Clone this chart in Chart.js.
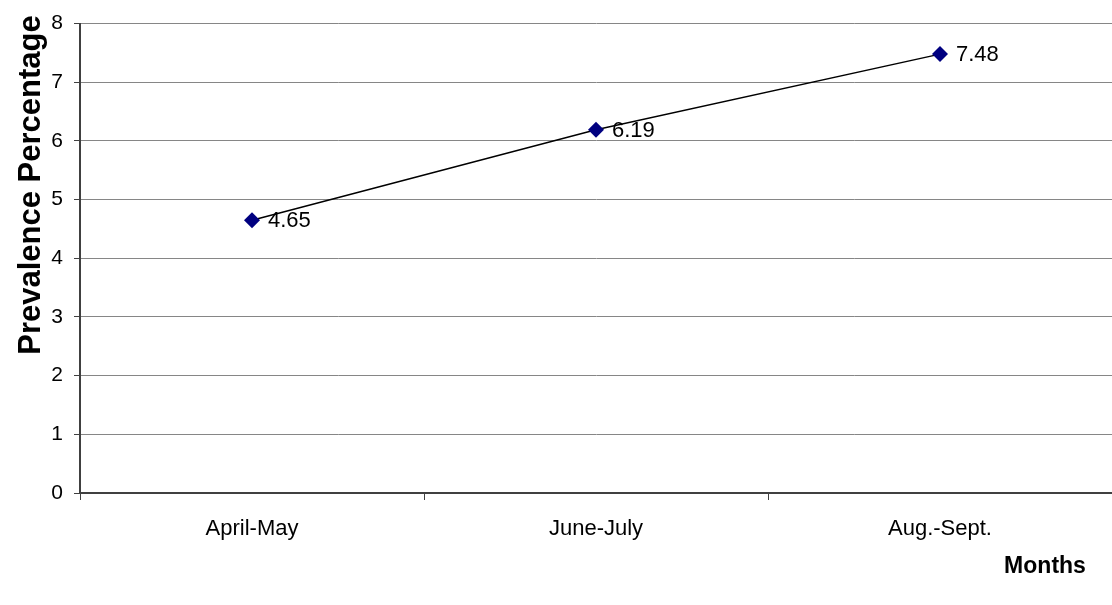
<!DOCTYPE html>
<html>
<head>
<meta charset="utf-8">
<script src="https://cdn.jsdelivr.net/npm/chart.js@4.4.1/dist/chart.umd.min.js"></script>
<style>
  html, body { margin: 0; padding: 0; background: #fff; overflow: hidden; }
  #wrap { width: 1112px; height: 605px; position: relative; }
</style>
</head>
<body>
<div id="wrap"><canvas id="prevChart"></canvas></div>
<script>
// Datos del gráfico
const months = ['April-May', 'June-July', 'Aug.-Sept.'];
const prevalence = [4.65, 6.19, 7.48];
const yTicks = [0, 1, 2, 3, 4, 5, 6, 7, 8];

const FONT = '"Liberation Sans", Arial, sans-serif';

// Etiquetas de valores junto a cada punto
const valueLabels = {
    id: 'valueLabels',
    afterDatasetsDraw(chart) {
        const ctx = chart.ctx;
        const meta = chart.getDatasetMeta(0);
        ctx.save();
        ctx.font = '22px ' + FONT;
        ctx.fillStyle = '#000';
        ctx.textBaseline = 'middle';
        ctx.textAlign = 'left';
        meta.data.forEach((pt, i) => {
            ctx.fillText(prevalence[i].toFixed(2), pt.x + 16, pt.y + 1);
        });
        ctx.restore();
    }
};

// Títulos de los ejes
const axisTitles = {
    id: 'axisTitles',
    afterDraw(chart) {
        const ctx = chart.ctx;
        ctx.save();
        ctx.fillStyle = '#000';
        ctx.textAlign = 'center';
        ctx.textBaseline = 'middle';
        ctx.font = 'bold 23px ' + FONT;
        ctx.fillText('Months', 1045, 567);
        ctx.translate(31, 185);
        ctx.rotate(-Math.PI / 2);
        ctx.font = 'bold 31px ' + FONT;
        ctx.fillText('Prevalence Percentage', 0, 0);
        ctx.restore();
    }
};

const ctxChart = document.getElementById('prevChart').getContext('2d');

const prevChart = new Chart(ctxChart, {
    type: 'line',
    data: {
        labels: months,
        datasets: [{
            label: 'Prevalence',
            data: prevalence,
            borderColor: '#000',
            borderWidth: 1.5,
            backgroundColor: '#000080',
            pointStyle: 'rectRot',
            pointRadius: 8,
            pointBorderWidth: 0,
            pointBackgroundColor: '#000080',
            tension: 0,
            fill: false
        }]
    },
    options: {
        responsive: true,
        maintainAspectRatio: false,
        animation: false,
        layout: {
            autoPadding: false,
            padding: { top: 12, right: 0, bottom: 0, left: 0 }
        },
        scales: {
            x: {
                offset: true,
                afterFit(scale) { scale.height = 112; },
                grid: {
                    offset: true,
                    drawOnChartArea: false,
                    drawTicks: true,
                    tickLength: 7,
                    tickColor: '#404040'
                },
                border: { color: '#404040', width: 2 },
                ticks: {
                    color: '#000',
                    padding: 16,
                    font: { family: FONT, size: 22 }
                }
            },
            y: {
                min: 0,
                max: 8,
                afterFit(scale) { scale.width = 80; },
                afterBuildTicks(scale) {
                    scale.ticks = yTicks.map(v => ({ value: v }));
                },
                grid: {
                    color: '#868686',
                    lineWidth: 1,
                    drawTicks: true,
                    tickLength: 6,
                    tickColor: '#404040'
                },
                border: { color: '#404040', width: 2 },
                ticks: {
                    color: '#000',
                    padding: 11,
                    font: { family: FONT, size: 21 }
                }
            }
        },
        plugins: {
            legend: { display: false },
            tooltip: { enabled: false }
        }
    },
    plugins: [valueLabels, axisTitles]
});
</script>
</body>
</html>
